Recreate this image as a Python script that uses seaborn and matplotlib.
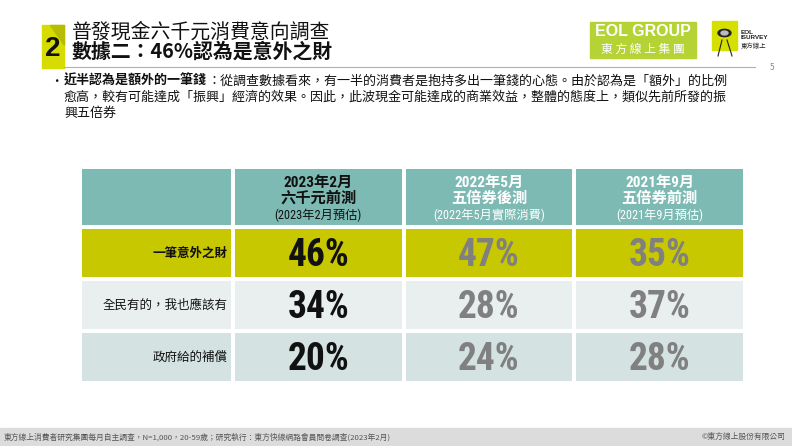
import matplotlib
matplotlib.use('Agg')
import matplotlib.pyplot as plt
import numpy as np
import pandas as pd
import seaborn as sns
from matplotlib import font_manager
from matplotlib.colors import ListedColormap
from matplotlib.patches import Rectangle, Polygon, Circle

# Table content
col_titles = ['2023年2月\n六千元前測', '2022年5月\n五倍券後測', '2021年9月\n五倍券前測']
col_notes = ['(2023年2月預估)', '(2022年5月實際消費)', '(2021年9月預估)']
row_labels = ['一筆意外之財', '全民有的，我也應該有', '政府給的補償']
pct_2023 = [46, 34, 20]
pct_2022 = [47, 28, 24]
pct_2021 = [35, 37, 28]

title_1 = '普發現金六千元消費意向調查'
title_2 = '數據二：46%認為是意外之財'
bullet_bold = '近半認為是額外的一筆錢'
bullet_lines = ['：從調查數據看來，有一半的消費者是抱持多出一筆錢的心態。由於認為是「額外」的比例',
                '愈高，較有可能達成「振興」經濟的效果。因此，此波現金可能達成的商業效益，整體的態度上，類似先前所發的振',
                '興五倍券']
footer_left = '東方線上消費者研究集團每月自主調查，N=1,000，20-59歲；研究執行：東方快線網路會員問卷調查(2023年2月)'
footer_right = '©東方線上股份有限公司'

df = pd.DataFrame({'2023': pct_2023, '2022': pct_2022, '2021': pct_2021}, index=row_labels)

# Fonts: a narrow sans for the numbers, CJK for the rest
names = {f.name for f in font_manager.fontManager.ttflist}
narrow = next((n for n in ['Liberation Sans Narrow', 'Roboto Condensed', 'Barlow Semi Condensed',
                           'Archivo Narrow', 'Liberation Sans'] if n in names), 'DejaVu Sans')
plt.rcParams['font.family'] = ['Noto Sans CJK TC', 'DejaVu Sans']
NUM = [narrow, 'Noto Sans CJK TC']
CJK = ['Noto Sans CJK TC', 'DejaVu Sans']

W, H = 792, 446
def fx(x):
    return x / W
def fy(y):
    return 1 - y / H

fig = plt.figure(figsize=(W / 100, H / 100), dpi=100)

# Cell colours: 0 header, 1..3 body rows
cmap = ListedColormap(['#7dbab4', '#c8c800', '#e9efef', '#d4e2e2'])
row_codes = np.arange(1, len(row_labels) + 1)

tab_left, lab_w, tab_right = 80, 153, 745
head_top, head_bot, body_bot = 167, 227, 383

def cell_axes(x0, x1, y0, y1):
    return fig.add_axes([fx(x0), fy(y1), (x1 - x0) / W, (y1 - y0) / H])

ax_hl = cell_axes(tab_left, tab_left + lab_w, head_top, head_bot)
ax_hd = cell_axes(tab_left + lab_w, tab_right, head_top, head_bot)
ax_bl = cell_axes(tab_left, tab_left + lab_w, head_bot, body_bot)
ax_bd = cell_axes(tab_left + lab_w, tab_right, head_bot, body_bot)

kw = dict(cmap=cmap, vmin=-0.5, vmax=3.5, cbar=False, linewidths=1.6, linecolor='white',
          xticklabels=False, yticklabels=False)
sns.heatmap(np.zeros((1, 1)), ax=ax_hl, **kw)
sns.heatmap(np.zeros((1, df.shape[1])), ax=ax_hd, **kw)
sns.heatmap(row_codes[:, None], ax=ax_bl, **kw)
sns.heatmap(np.repeat(row_codes[:, None], df.shape[1], axis=1), ax=ax_bd, **kw)

# Header texts
for j, (t, n) in enumerate(zip(col_titles, col_notes)):
    c = '#111111' if j == 0 else 'white'
    ax_hd.text(j + 0.5, 0.40, t, ha='center', va='center', fontsize=11, fontweight='bold',
               color=c, family=NUM, linespacing=1.1)
    ax_hd.text(j + 0.5, 0.80, n, ha='center', va='center', fontsize=8.8, color=c, family=NUM)

# Row labels
for i, lab in enumerate(row_labels):
    ax_bl.text(0.965, i + 0.5, lab, ha='right', va='center', fontsize=9,
               fontweight='bold' if i == 0 else 'normal', color='#111111', family=CJK)

# Values
for j, col in enumerate(df.columns):
    c = '#111111' if j == 0 else '#808080'
    for i, v in enumerate(df[col]):
        ax_bd.text(j + 0.5, i + 0.55, f'{v}%', ha='center', va='center', fontsize=27,
                   fontweight='bold', color=c, family=NUM)

# Title badge
fig.patches.append(Polygon([[fx(42), fy(25)], [fx(64), fy(25)], [fx(64), fy(68)], [fx(42), fy(68)]],
                           closed=True, color='#d6dc00', transform=fig.transFigure))
fig.patches.append(Polygon([[fx(50), fy(25)], [fx(64), fy(25)], [fx(64), fy(45)]],
                           closed=True, color='#b7bc00', transform=fig.transFigure))
fig.text(fx(53), fy(49), '2', ha='center', va='center', fontsize=20, fontweight='bold',
         color='#111111', family=['Liberation Sans', 'DejaVu Sans'])
fig.text(fx(72), fy(32), title_1, ha='left', va='center', fontsize=14.3, color='#111111')
fig.text(fx(72), fy(51), title_2, ha='left', va='center', fontsize=14.3, fontweight='bold',
         color='#111111')
fig.add_artist(plt.Line2D([fx(64), fx(755)], [fy(66.5), fy(66.5)], color='#b0b0b0', lw=0.8))
fig.text(fx(772), fy(68), '5', ha='center', va='center', fontsize=6, color='#888888')

# Logos
fig.patches.append(Rectangle((fx(590), fy(58)), 106 / W, 36 / H, color='#b5d335',
                             transform=fig.transFigure))
fig.text(fx(643), fy(31), 'EOL GROUP', ha='center', va='center', fontsize=11.5,
         fontweight='bold', color='white', family=['Liberation Sans'])
fig.text(fx(643), fy(49), '東 方 線 上 集 團', ha='center', va='center', fontsize=8.5,
         color='white')
fig.patches.append(Rectangle((fx(712), fy(50)), 25 / W, 29 / H, color='#d6e000',
                             transform=fig.transFigure))
fig.patches.append(Circle((fx(724.5), fy(33)), 6.5 / W, color='#222222', transform=fig.transFigure))
fig.patches.append(Circle((fx(724.5), fy(33)), 3.5 / W, color='#bbbbbb', transform=fig.transFigure))
fig.add_artist(plt.Line2D([fx(722), fx(718)], [fy(40), fy(56)], color='#222222', lw=0.8))
fig.add_artist(plt.Line2D([fx(727), fx(732)], [fy(40), fy(56)], color='#222222', lw=0.8))
fig.text(fx(741), fy(35), 'EOL\nISURVEY', ha='left', va='center', fontsize=4.6,
         fontweight='bold', color='#222222', family=['Liberation Sans'], linespacing=1.0)
fig.text(fx(741), fy(46), '東方線上', ha='left', va='center', fontsize=4.6, color='#222222')

# Bullet text
fig.text(fx(50), fy(81), '•', ha='left', va='center', fontsize=9, color='#111111')
rend = fig.canvas.get_renderer()
tb = fig.text(fx(64), fy(81), bullet_bold, ha='left', va='center', fontsize=9.4,
              fontweight='bold', color='#111111')
bb = tb.get_window_extent(renderer=rend)
fig.text(bb.x1 / fig.bbox.width, fy(81), bullet_lines[0], ha='left', va='center',
         fontsize=9.4, color='#111111')
for k, line in enumerate(bullet_lines[1:]):
    fig.text(fx(64), fy(97 + 16 * k), line, ha='left', va='center', fontsize=9.4, color='#111111')

# Footer
fig.patches.append(Rectangle((0, 0), 1, 18 / H, color='#dcdcdc', transform=fig.transFigure))
fig.text(fx(4), fy(437), footer_left, ha='left', va='center', fontsize=5.6, color='#555555')
fig.text(fx(786), fy(437), footer_right, ha='right', va='center', fontsize=5.6, color='#555555')

fig.savefig('out.png', dpi=100, facecolor='white')
